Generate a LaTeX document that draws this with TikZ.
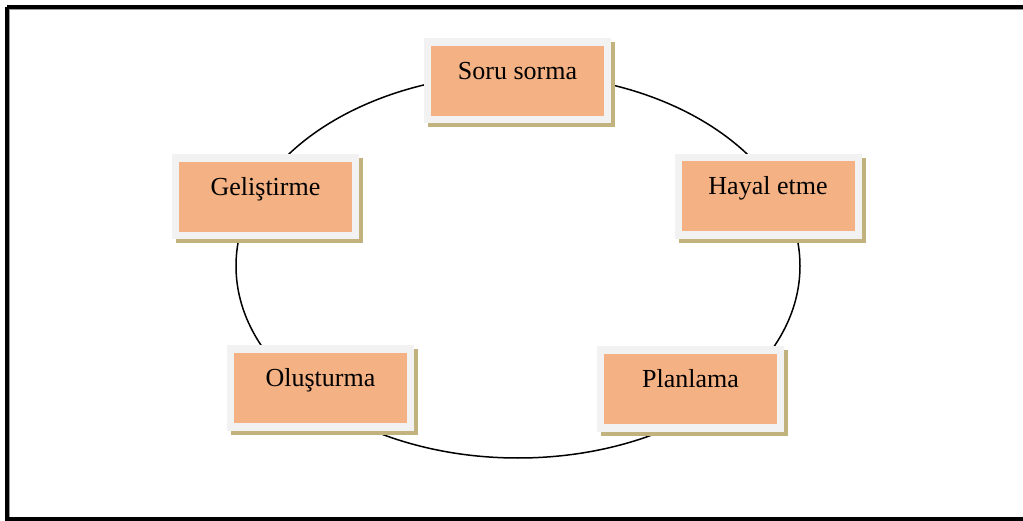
\documentclass[tikz,border=0pt]{standalone}
\usepackage{fontspec}
\setmainfont{Liberation Serif}
\usetikzlibrary{shadows,calc}
\definecolor{boxorange}{HTML}{F4B183}
\definecolor{boxframe}{HTML}{F2F2F2}
\definecolor{boxshadow}{HTML}{C2B27E}
\tikzset{
  frame/.style={rectangle, draw=none, fill=boxframe, minimum width=187pt, minimum height=85pt, inner sep=0pt,
    drop shadow={shadow xshift=4pt, shadow yshift=-4pt, fill=boxshadow, opacity=1}},
  inbox/.style={rectangle, draw=none, fill=boxorange, minimum width=173pt, minimum height=70pt, inner sep=0pt},
  lbl/.style={inner sep=0pt, anchor=base, font=\fontsize{26}{30}\selectfont, text=black},
  cycleline/.style={draw=black, line width=1.5pt},
}
\begin{document}
\begin{tikzpicture}[x=1pt,y=-1pt]
\useasboundingbox (0,0) rectangle (1023,521);
\draw[line width=4pt, black] (7,7) -- (1035,7);
\draw[line width=4pt, black] (7,7) -- (7,519) -- (1035,519);
\draw[line width=1pt, black!40] (9.5,9.5) -- (1035,9.5);
\draw[line width=1pt, black!40] (9.5,9.5) -- (9.5,516.5);
\coordinate (c) at (518,266);
\draw[cycleline] (c) ellipse [x radius=282pt, y radius=192pt];
% Soru sorma
\node[frame] (s) at (517.5,81) {};
\node[inbox] (si) at (s) {};
\node[lbl] (st) at ($(si)+(0,-1)$) {Soru sorma};
% Hayal etme
\node[frame] (h) at (768,196.5) {};
\node[inbox] (hi) at (h) {};
\node[lbl] (ht) at ($(hi)+(0,-1.5)$) {Hayal etme};
% Planlama
\node[frame] (p) at (690.5,389) {};
\node[inbox] (pi) at (p) {};
\node[lbl] (pt) at ($(pi)+(0,-1.5)$) {Planlama};
% Olusturma
\node[frame] (o) at (320.5,388) {};
\node[inbox] (oi) at (o) {};
\node[lbl] (ot) at ($(oi)+(0,-1.5)$) {Oluşturma};
% Gelistirme
\node[frame] (g) at (265.5,197) {};
\node[inbox] (gi) at (g) {};
\node[lbl] (gt) at ($(gi)+(0,-1)$) {Geliştirme};
\end{tikzpicture}
\end{document}
